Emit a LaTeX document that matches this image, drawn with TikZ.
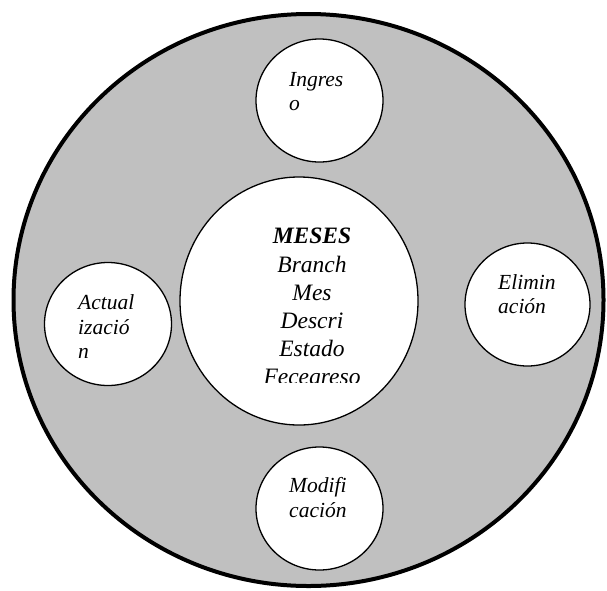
\documentclass[tikz,border=0pt]{standalone}
\usepackage{fontspec}
\setmainfont{Liberation Serif}
\usetikzlibrary{shapes.geometric}
\definecolor{ringgrey}{RGB}{192,192,192}
\begin{document}
\begin{tikzpicture}[x=1pt,y=-1pt,
  ring/.style={ellipse, draw=black, line width=4pt, fill=ringgrey, inner sep=0pt},
  bubble/.style={ellipse, draw=black, line width=1.3pt, fill=white, inner sep=0pt},
  lbl/.style={anchor=base west, inner sep=0pt, font=\fontsize{21.5}{24}\selectfont\itshape},
  core/.style={anchor=base, inner sep=0pt, font=\fontsize{23.5}{28}\selectfont\itshape}]
\useasboundingbox (0,0) rectangle (607,590);

% outer grey disc
\node[ring, minimum width=590pt, minimum height=572pt] (outer) at (308.5,300) {};

% central table entity and the four operations around it
\node[bubble, minimum width=238pt, minimum height=248pt] (meses) at (299,301) {};
\node[bubble, minimum width=127pt, minimum height=123pt] (ingreso) at (319.5,100.5) {};
\node[bubble, minimum width=127pt, minimum height=123pt] (modif) at (319.5,508.5) {};
\node[bubble, minimum width=127pt, minimum height=123pt] (actual) at (108,324) {};
\node[bubble, minimum width=125pt, minimum height=123pt] (elim) at (527.5,304.5) {};

% field list of the table (last line is cut off by its text frame)
\begin{scope}
  \clip (180,200) rectangle (420,382);
  \node[core, font=\fontsize{23.5}{28}\selectfont\bfseries\itshape] (t0) at (312,243) {MESES};
  \node[core] (t1) at (312,272) {Branch};
  \node[core] (t2) at (312,300) {Mes};
  \node[core] (t3) at (312,328) {Descri};
  \node[core] (t4) at (312,356) {Estado};
  \node[core] (t5) at (312,384) {Fecegreso};
\end{scope}

% operation labels
\node[lbl] (i1) at (289,86) {Ingres};
\node[lbl] (i2) at (289,110) {o};

\node[lbl] (m1) at (289,492) {Modifi};
\node[lbl] (m2) at (289,517) {cación};

\node[lbl] (a1) at (78,309) {Actual};
\node[lbl] (a2) at (78,334) {izació};
\node[lbl] (a3) at (78,358) {n};

\node[lbl] (e1) at (498,289) {Elimin};
\node[lbl] (e2) at (498,313) {ación};
\end{tikzpicture}
\end{document}
